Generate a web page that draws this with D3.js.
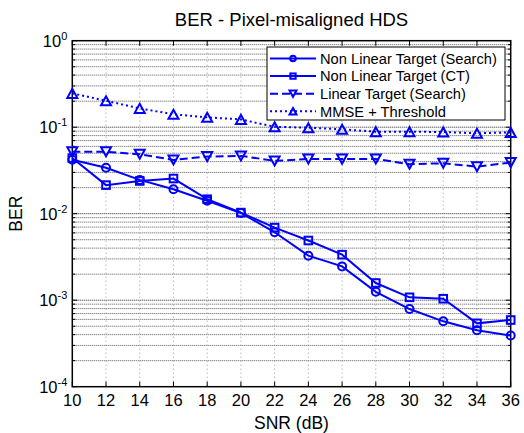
<!DOCTYPE html>
<html>
<head>
<meta charset="utf-8">
<script src="https://cdn.jsdelivr.net/npm/d3@7"></script>
<style>
  body { margin: 0; background: #fff; }
  text { font-family: "Liberation Sans", Arial, sans-serif; fill: #000; }
</style>
</head>
<body>
<svg id="canvas" width="524" height="433"></svg>
<script>
let snr = [10, 12, 14, 16, 18, 20, 22, 24, 26, 28, 30, 32, 34, 36]
let nonLinearSearch = [0.042, 0.034, 0.0246, 0.0192, 0.0141, 0.0102, 0.0061, 0.00327, 0.00246, 0.00125, 0.00079, 0.00057, 0.00045, 0.00039]
let nonLinearCT = [0.044, 0.0214, 0.0239, 0.0255, 0.0147, 0.0103, 0.0069, 0.0049, 0.00336, 0.00158, 0.00108, 0.00104, 0.00054, 0.00059]
let linearSearch = [0.052, 0.052, 0.0487, 0.0419, 0.0457, 0.0466, 0.0408, 0.043, 0.0428, 0.043, 0.0373, 0.0383, 0.035, 0.039]
let mmse = [0.246, 0.202, 0.165, 0.141, 0.13, 0.123, 0.101, 0.0987, 0.0946, 0.0887, 0.0887, 0.088, 0.085, 0.087]

let seriesNames = ['Non Linear Target (Search)', 'Non Linear Target (CT)', 'Linear Target (Search)', 'MMSE + Threshold']
let xTicks = [10, 12, 14, 16, 18, 20, 22, 24, 26, 28, 30, 32, 34, 36]
let yDecades = [-4, -3, -2, -1, 0]

let series = [
    { name: seriesNames[0], values: nonLinearSearch, marker: 'circle', dash: null },
    { name: seriesNames[1], values: nonLinearCT, marker: 'square', dash: null },
    { name: seriesNames[2], values: linearSearch, marker: 'down', dash: '8,4' },
    { name: seriesNames[3], values: mmse, marker: 'up', dash: '2,3' }
]

let width = 524
let height = 433
let margin = { top: 40.7, right: 13.3, bottom: 46.3, left: 72.3 }
let blue = '#0000ff'

let canvas = d3.select('#canvas')

let xScale = d3.scaleLinear()
               .domain([10, 36])
               .range([margin.left, width - margin.right])

let yScale = d3.scaleLog()
               .domain([1e-4, 1])
               .range([height - margin.bottom, margin.top])

let x0 = margin.left, x1 = width - margin.right
let y0 = margin.top, y1 = height - margin.bottom

// minor and major log values
let minorVals = []
for (let d = -4; d < 0; d++) {
    for (let m = 2; m <= 9; m++) {
        minorVals.push(m * Math.pow(10, d))
    }
}
let majorVals = yDecades.map((d) => Math.pow(10, d))

// grid
let grid = canvas.append('g')
grid.selectAll('.hminor')
    .data(minorVals)
    .enter()
    .append('line')
    .attr('x1', x0).attr('x2', x1)
    .attr('y1', (v) => yScale(v)).attr('y2', (v) => yScale(v))
    .attr('stroke', '#555')
    .attr('stroke-width', 1)
    .attr('stroke-dasharray', '1,1')
grid.selectAll('.hmajor')
    .data(majorVals.slice(1, -1))
    .enter()
    .append('line')
    .attr('x1', x0).attr('x2', x1)
    .attr('y1', (v) => yScale(v)).attr('y2', (v) => yScale(v))
    .attr('stroke', '#222')
    .attr('stroke-width', 1)
    .attr('stroke-dasharray', '1,1')
grid.selectAll('.vgrid')
    .data(xTicks.slice(1, -1))
    .enter()
    .append('line')
    .attr('x1', (v) => xScale(v)).attr('x2', (v) => xScale(v))
    .attr('y1', y0).attr('y2', y1)
    .attr('stroke', '#999')
    .attr('stroke-width', 1)
    .attr('stroke-dasharray', '1,3')

// ticks (inward on all sides)
let ticks = canvas.append('g').attr('stroke', '#000').attr('stroke-width', 1)
xTicks.forEach((t) => {
    let x = xScale(t)
    ticks.append('line').attr('x1', x).attr('x2', x).attr('y1', y1).attr('y2', y1 - 5)
    ticks.append('line').attr('x1', x).attr('x2', x).attr('y1', y0).attr('y2', y0 + 5)
})
majorVals.forEach((v) => {
    let y = yScale(v)
    ticks.append('line').attr('x1', x0).attr('x2', x0 + 5).attr('y1', y).attr('y2', y)
    ticks.append('line').attr('x1', x1).attr('x2', x1 - 5).attr('y1', y).attr('y2', y)
})
minorVals.forEach((v) => {
    let y = yScale(v)
    ticks.append('line').attr('x1', x0).attr('x2', x0 + 3).attr('y1', y).attr('y2', y)
    ticks.append('line').attr('x1', x1).attr('x2', x1 - 3).attr('y1', y).attr('y2', y)
})

// box
canvas.append('rect')
      .attr('x', x0).attr('y', y0)
      .attr('width', x1 - x0).attr('height', y1 - y0)
      .attr('fill', 'none')
      .attr('stroke', '#000')
      .attr('stroke-width', 1.5)

// tick labels
canvas.selectAll('.xlabel')
      .data(xTicks)
      .enter()
      .append('text')
      .attr('x', (t) => xScale(t))
      .attr('y', y1 + 19.5)
      .attr('text-anchor', 'middle')
      .style('font-size', '16.5px')
      .text((t) => t)

yDecades.forEach((d) => {
    let y = yScale(Math.pow(10, d))
    let t = canvas.append('text')
                  .attr('x', x0 - 5)
                  .attr('y', y + 6)
                  .attr('text-anchor', 'end')
                  .style('font-size', '16.5px')
    t.append('tspan').text('10')
    t.append('tspan')
     .attr('dy', -7)
     .style('font-size', '11px')
     .text(d)
})

// axis titles
canvas.append('text')
      .attr('x', (x0 + x1) / 2)
      .attr('y', 26)
      .attr('text-anchor', 'middle')
      .style('font-size', '18.5px')
      .text('BER - Pixel-misaligned HDS')

canvas.append('text')
      .attr('x', (x0 + x1) / 2)
      .attr('y', 429)
      .attr('text-anchor', 'middle')
      .style('font-size', '17.5px')
      .text('SNR (dB)')

canvas.append('text')
      .attr('transform', 'translate(21.5,' + yScale(0.01) + ') rotate(-90)')
      .attr('text-anchor', 'middle')
      .style('font-size', '17.5px')
      .text('BER')

// markers
let drawMarker = (g, type, x, y, s) => {
    let m
    if (type === 'circle') {
        m = g.append('circle').attr('cx', x).attr('cy', y).attr('r', 4 * s)
    } else if (type === 'square') {
        m = g.append('rect').attr('x', x - 3.8 * s).attr('y', y - 3.8 * s)
             .attr('width', 7.6 * s).attr('height', 7.6 * s)
    } else if (type === 'down') {
        let w = 5 * s, h = 4.5 * s
        m = g.append('path').attr('d', 'M' + (x - w) + ',' + (y - h) + 'L' + (x + w) + ',' + (y - h) + 'L' + x + ',' + (y + h) + 'Z')
    } else {
        let w = 5 * s, h = 4.5 * s
        m = g.append('path').attr('d', 'M' + (x - w) + ',' + (y + h) + 'L' + (x + w) + ',' + (y + h) + 'L' + x + ',' + (y - h) + 'Z')
    }
    m.attr('fill', 'none').attr('stroke', blue).attr('stroke-width', 2)
}

let line = d3.line()
             .x((d) => xScale(d[0]))
             .y((d) => yScale(d[1]))

let plot = canvas.append('g')
series.forEach((s) => {
    let pts = snr.map((x, i) => [x, s.values[i]])
    plot.append('path')
        .datum(pts)
        .attr('d', line)
        .attr('fill', 'none')
        .attr('stroke', blue)
        .attr('stroke-width', 2)
        .attr('stroke-dasharray', s.dash)
    pts.forEach((p) => drawMarker(plot, s.marker, xScale(p[0]), yScale(p[1]), 1))
})

// legend
let legend = canvas.append('g')
legend.append('rect')
      .attr('x', 267).attr('y', 47)
      .attr('width', 238).attr('height', 73)
      .attr('fill', '#fff')
      .attr('stroke', '#000')
      .attr('stroke-width', 1)

series.forEach((s, i) => {
    let ly = 58.5 + i * 17.6
    legend.append('line')
          .attr('x1', 270).attr('x2', 316)
          .attr('y1', ly).attr('y2', ly)
          .attr('stroke', blue)
          .attr('stroke-width', 2)
          .attr('stroke-dasharray', s.dash)
    drawMarker(legend, s.marker, 293, ly, 0.7)
    legend.append('text')
          .attr('x', 320)
          .attr('y', ly + 5.3)
          .style('font-size', '14.7px')
          .text(s.name)
})
</script>
</body>
</html>
